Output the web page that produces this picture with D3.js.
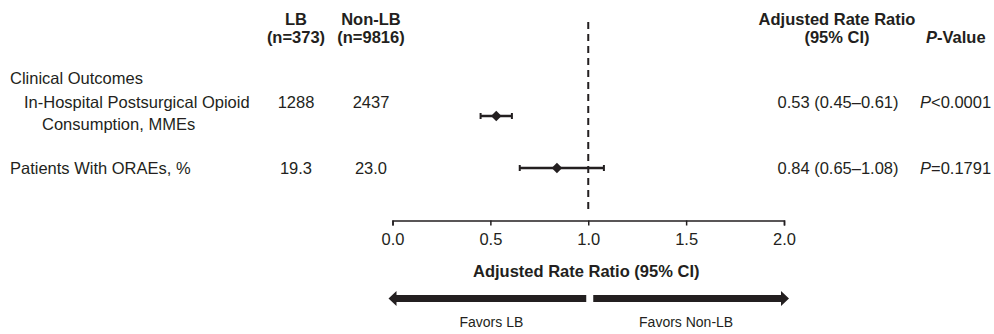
<!DOCTYPE html>
<html>
<head>
<meta charset="utf-8">
<script src="https://cdn.jsdelivr.net/npm/d3@7"></script>
<style>
  body { margin: 0; background: #fff; }
  svg { display: block; font-family: "Liberation Sans", Arial, sans-serif; }
</style>
</head>
<body>
<div id="chart"></div>
<script>
// row labels (each entry is one or more lines)
var rowLabels = [
  ["In-Hospital Postsurgical Opioid", "Consumption, MMEs"],
  ["Patients With ORAEs, %"]
];
var rowIndent = [1, 0];
var lbValues = ["1288", "19.3"];
var nonLbValues = ["2437", "23.0"];
var estimates = [0.53, 0.84];
var lowerCI = [0.45, 0.65];
var upperCI = [0.61, 1.08];
var ratioText = ["0.53 (0.45\u20130.61)", "0.84 (0.65\u20131.08)"];
var pSign = ["<", "="];
var pText = ["0.0001", "0.1791"];
var xTicks = [0, 0.5, 1, 1.5, 2];

var W = 994, H = 334;
var ink = "#231f20";
var fs = 16.5;

var svg = d3.select("#chart").append("svg")
  .attr("width", W).attr("height", H);

var x = d3.scaleLinear().domain([0, 2]).range([392.5, 784]);
var rowY = [116, 168]; // centre of each row's marker

// column headers
function twoLine(cx, y, l1, l2) {
  var t = svg.append("text").attr("font-weight", "bold").attr("font-size", fs)
    .attr("fill", ink).attr("text-anchor", "middle");
  t.append("tspan").attr("x", cx).attr("y", y).text(l1);
  t.append("tspan").attr("x", cx).attr("y", y + 17.5).text(l2);
}
twoLine(296, 25, "LB", "(n=373)");
twoLine(371, 25, "Non-LB", "(n=9816)");
twoLine(837, 25, "Adjusted Rate Ratio", "(95% CI)");
var pv = svg.append("text").attr("x", 926).attr("y", 42.5)
  .attr("font-weight", "bold").attr("font-size", fs).attr("fill", ink);
pv.append("tspan").attr("font-style", "italic").text("P");
pv.append("tspan").text("-Value");

svg.append("text").attr("x", 10).attr("y", 84)
  .attr("font-size", fs).attr("fill", ink).text("Clinical Outcomes");

// rows
var baseY = [108, 174];
rowLabels.forEach(function (lines, i) {
  var t = svg.append("text").attr("font-size", fs).attr("fill", ink);
  lines.forEach(function (l, j) {
    t.append("tspan")
      .attr("x", 10 + rowIndent[i] * 14 + j * 18)
      .attr("y", baseY[i] + j * 21.5)
      .text(l);
  });
  svg.append("text").attr("x", 296).attr("y", baseY[i]).attr("text-anchor", "middle")
    .attr("font-size", fs).attr("fill", ink).text(lbValues[i]);
  svg.append("text").attr("x", 371).attr("y", baseY[i]).attr("text-anchor", "middle")
    .attr("font-size", fs).attr("fill", ink).text(nonLbValues[i]);
  svg.append("text").attr("x", 838).attr("y", baseY[i]).attr("text-anchor", "middle")
    .attr("font-size", fs).attr("fill", ink).text(ratioText[i]);
  var p = svg.append("text").attr("x", 920).attr("y", baseY[i])
    .attr("font-size", fs).attr("fill", ink);
  p.append("tspan").attr("font-style", "italic").text("P");
  p.append("tspan").text(pSign[i] + pText[i]);
});

// reference line at 1
svg.append("line")
  .attr("x1", x(1)).attr("x2", x(1)).attr("y1", 22).attr("y2", 214)
  .attr("stroke", ink).attr("stroke-width", 2).attr("stroke-dasharray", "7,5");

// CIs
var g = svg.append("g");
estimates.forEach(function (d, i) {
  var y = rowY[i];
  g.append("line").attr("x1", x(lowerCI[i])).attr("x2", x(upperCI[i]))
    .attr("y1", y).attr("y2", y).attr("stroke", ink).attr("stroke-width", 2.5);
  [lowerCI[i], upperCI[i]].forEach(function (c) {
    g.append("line").attr("x1", x(c)).attr("x2", x(c))
      .attr("y1", y - 3).attr("y2", y + 3).attr("stroke", ink).attr("stroke-width", 2);
  });
  g.append("path")
    .attr("d", d3.symbol().type(d3.symbolDiamond2).size(70)())
    .attr("transform", "translate(" + x(d) + "," + y + ")")
    .attr("fill", ink);
});

// x axis
var axis = svg.append("g").attr("transform", "translate(0,220.5)")
  .call(d3.axisBottom(x).tickValues(xTicks).tickFormat(d3.format(".1f"))
    .tickSize(5).tickSizeOuter(5).tickPadding(8));
axis.select(".domain").attr("stroke", ink).attr("stroke-width", 1.5);
axis.selectAll(".tick line").attr("stroke", ink).attr("stroke-width", 1.5);
axis.selectAll(".tick text").attr("font-size", fs).attr("fill", ink)
  .attr("font-family", "Liberation Sans, Arial, sans-serif");

svg.append("text").attr("x", x(1) - 2).attr("y", 277).attr("text-anchor", "middle")
  .attr("font-weight", "bold").attr("font-size", fs).attr("fill", ink)
  .text("Adjusted Rate Ratio (95% CI)");

// favour arrows
var ay = 298.5;
svg.append("path").attr("fill", ink)
  .attr("d", "M" + (x(0) - 4) + "," + ay + "L" + (x(0) + 4) + "," + (ay - 7.5) +
    "L" + (x(0) + 4) + "," + (ay - 3.5) + "L" + (x(1) - 2) + "," + (ay - 3.5) +
    "L" + (x(1) - 2) + "," + (ay + 3.5) + "L" + (x(0) + 4) + "," + (ay + 3.5) +
    "L" + (x(0) + 4) + "," + (ay + 7.5) + "Z");
svg.append("path").attr("fill", ink)
  .attr("d", "M" + (x(2) + 5) + "," + ay + "L" + (x(2) - 3) + "," + (ay - 7.5) +
    "L" + (x(2) - 3) + "," + (ay - 3.5) + "L" + (x(1) + 5) + "," + (ay - 3.5) +
    "L" + (x(1) + 5) + "," + (ay + 3.5) + "L" + (x(2) - 3) + "," + (ay + 3.5) +
    "L" + (x(2) - 3) + "," + (ay + 7.5) + "Z");

svg.append("text").attr("x", x(0.5) + 1).attr("y", 327).attr("text-anchor", "middle")
  .attr("font-size", 14).attr("fill", ink).text("Favors LB");
svg.append("text").attr("x", x(1.5)).attr("y", 327).attr("text-anchor", "middle")
  .attr("font-size", 14).attr("fill", ink).text("Favors Non-LB");
</script>
</body>
</html>
